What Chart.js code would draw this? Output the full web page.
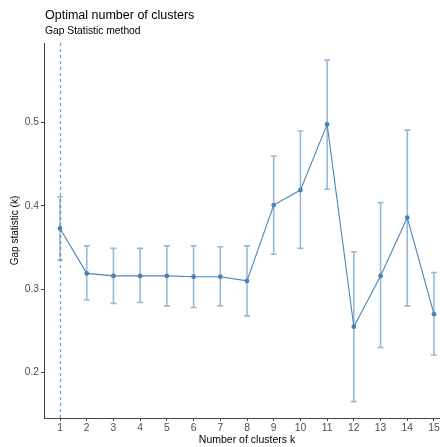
<!DOCTYPE html>
<html>
<head>
<meta charset="utf-8">
<script src="https://cdn.jsdelivr.net/npm/chart.js@4/dist/chart.umd.min.js"></script>
<style>
  html, body { margin: 0; padding: 0; background: #fff; overflow: hidden; }
  #wrap { position: relative; width: 456px; height: 447px; }
  #wrap canvas { position: absolute; left: 0; top: 0; }
  .ttl { position: absolute; left: 45px; font-family: "Liberation Sans", Arial, sans-serif; color: #000; white-space: nowrap; line-height: 1.15; }
  #title { top: 8px; font-size: 12.5px; }
  #subtitle { top: 25px; font-size: 10.3px; }
</style>
</head>
<body>
<div id="wrap">
  <canvas id="gap" width="456" height="447"></canvas>
  <div class="ttl" id="title">Optimal number of clusters</div>
  <div class="ttl" id="subtitle">Gap Statistic method</div>
</div>
<script>
// Gap statistic per k (value ± SE bounds)
const K      = [1, 2, 3, 4, 5, 6, 7, 8, 9, 10, 11, 12, 13, 14, 15];
const GAP    = [0.373, 0.319, 0.316, 0.316, 0.316, 0.315, 0.315, 0.310, 0.401, 0.419, 0.498, 0.255, 0.316, 0.386, 0.270];
const UPPER  = [0.411, 0.352, 0.349, 0.349, 0.352, 0.352, 0.351, 0.352, 0.460, 0.490, 0.575, 0.345, 0.404, 0.491, 0.320];
const LOWER  = [0.335, 0.287, 0.283, 0.284, 0.280, 0.278, 0.280, 0.268, 0.342, 0.349, 0.420, 0.165, 0.230, 0.280, 0.221];
const Y_TICKS = [0.2, 0.3, 0.4, 0.5];
const OPTIMAL_K = 1;

const FONT = '"Liberation Sans", Arial, sans-serif';
const LINE = '#4a84bb';
const BAR  = 'rgba(70,130,180,0.55)';

// error bars + the dashed "optimal k" marker, placed via the chart's own scales
const gapExtras = {
  id: 'gapExtras',
  beforeDatasetsDraw(chart) {
    const { ctx, chartArea, scales: { x } } = chart;
    const px = Math.round(x.getPixelForValue(OPTIMAL_K)) + 0.5;
    ctx.save();
    ctx.strokeStyle = '#6fa6da';
    ctx.lineWidth = 1.4;
    ctx.setLineDash([3, 3]);
    ctx.beginPath();
    ctx.moveTo(px, chartArea.top);
    ctx.lineTo(px, chartArea.bottom);
    ctx.stroke();
    ctx.restore();
  },
  afterDatasetsDraw(chart) {
    const { ctx, scales: { x, y } } = chart;
    ctx.save();
    ctx.strokeStyle = BAR;
    ctx.lineWidth = 1.6;
    K.forEach((k, i) => {
      const px = x.getPixelForValue(k);
      const top = y.getPixelForValue(UPPER[i]);
      const bot = y.getPixelForValue(LOWER[i]);
      ctx.beginPath();
      ctx.moveTo(px, top); ctx.lineTo(px, bot);
      ctx.moveTo(px - 3, top); ctx.lineTo(px + 3, top);
      ctx.moveTo(px - 3, bot); ctx.lineTo(px + 3, bot);
      ctx.stroke();
    });
    ctx.restore();
  },
};

const axisCommon = {
  border: { display: true, color: '#444', width: 1 },
  grid: { display: true, drawOnChartArea: false, drawTicks: true, tickLength: 3, tickColor: '#444' },
};

new Chart(document.getElementById('gap'), {
  type: 'line',
  data: {
    datasets: [{
      data: K.map((k, i) => ({ x: k, y: GAP[i] })),
      borderColor: LINE,
      backgroundColor: LINE,
      borderWidth: 1.1,
      pointRadius: 2.4,
      pointBorderWidth: 0,
      tension: 0,
    }],
  },
  options: {
    responsive: false,
    animation: false,
    events: [],
    layout: { padding: { top: 43, right: 6, left: 0, bottom: 0 } },
    plugins: { legend: { display: false }, tooltip: { enabled: false } },
    scales: {
      x: {
        ...axisCommon,
        type: 'linear',
        min: 0.4,
        max: 15.6,
        afterBuildTicks: (s) => { s.ticks = K.map((v) => ({ value: v })); },
        afterFit: (s) => { s.height = 29; },
        ticks: { color: '#4d4d4d', padding: 1, font: { family: FONT, size: 10.3 }, maxRotation: 0, autoSkip: false },
        title: { display: true, text: 'Number of clusters k', color: '#000', padding: { top: 0, bottom: 1 }, font: { family: FONT, size: 10.5 } },
      },
      y: {
        ...axisCommon,
        min: 0.1454,
        max: 0.5956,
        afterBuildTicks: (s) => { s.ticks = Y_TICKS.map((v) => ({ value: v })); },
        afterFit: (s) => { s.width = 44; },
        ticks: { color: '#4d4d4d', padding: 2, font: { family: FONT, size: 10.3 }, callback: (v) => v.toFixed(1) },
        title: { display: true, text: 'Gap statistic (k)', color: '#000', padding: { top: 9, bottom: 0 }, font: { family: FONT, size: 10 } },
      },
    },
  },
  plugins: [gapExtras],
});
</script>
</body>
</html>
